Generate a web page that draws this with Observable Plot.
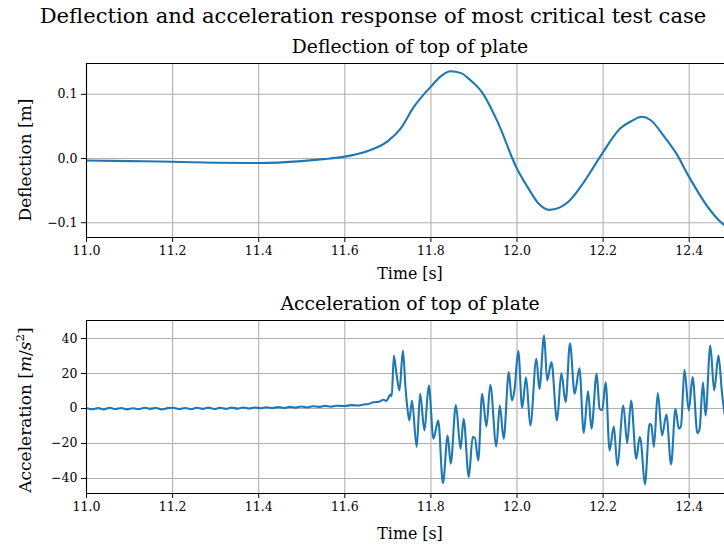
<!DOCTYPE html>
<html>
<head>
<meta charset="utf-8">
<script src="https://cdn.jsdelivr.net/npm/d3@7"></script>
<script src="https://cdn.jsdelivr.net/npm/@observablehq/plot@0.6"></script>
<style>
  html, body { margin: 0; padding: 0; background: #fff; overflow: hidden; }
  #page { position: relative; width: 724px; height: 545px; overflow: hidden; font-family: "DejaVu Serif", "Liberation Serif", serif; color: #000; }
  .lbl { position: absolute; white-space: nowrap; transform: translate(-50%, -50%); line-height: 1; }
  .rot { transform: translate(-50%, -50%) rotate(-90deg); }
  svg { position: absolute; left: 0; }
  svg text { font-family: "DejaVu Serif", "Liberation Serif", serif !important; font-size: 12.5px !important; fill: #000; }
</style>
</head>
<body>
<div id="page"></div>
<script>
// ---- data ----
const defT = [11.0, 11.1, 11.2, 11.3, 11.4, 11.5, 11.55, 11.6, 11.65, 11.7, 11.73, 11.76, 11.8, 11.825, 11.845, 11.87, 11.89, 11.92, 11.955, 12.0, 12.025, 12.05, 12.075, 12.1, 12.12, 12.155, 12.2, 12.24, 12.265, 12.29, 12.31, 12.34, 12.37, 12.4, 12.447, 12.47, 12.482];
const defV = [-0.003, -0.004, -0.005, -0.0065, -0.007, -0.004, -0.001, 0.003, 0.011, 0.027, 0.047, 0.08, 0.112, 0.129, 0.136, 0.133, 0.123, 0.102, 0.057, -0.016, -0.045, -0.07, -0.080, -0.076, -0.067, -0.037, 0.010, 0.047, 0.058, 0.065, 0.060, 0.036, 0.008, -0.029, -0.079, -0.097, -0.104];

const accT = [11.000, 11.013, 11.027, 11.040, 11.054, 11.067, 11.081, 11.094, 11.108, 11.121, 11.135, 11.148, 11.162, 11.175, 11.189, 11.202, 11.216, 11.229, 11.243, 11.256, 11.270, 11.283, 11.297, 11.310, 11.324, 11.337, 11.351, 11.364, 11.378, 11.391, 11.405, 11.418, 11.432, 11.445, 11.459, 11.472, 11.486, 11.499, 11.513, 11.526, 11.540, 11.553, 11.567, 11.580, 11.600, 11.615, 11.630, 11.644, 11.655, 11.667, 11.678, 11.690, 11.696, 11.702, 11.706, 11.709,
  11.714, 11.720, 11.727, 11.735, 11.741, 11.746, 11.750, 11.756, 11.767, 11.775, 11.785, 11.795, 11.806, 11.817, 11.828, 11.839, 11.846, 11.858, 11.869, 11.876, 11.888, 11.897, 11.902, 11.910, 11.919, 11.929, 11.938, 11.952, 11.960, 11.969, 11.981, 11.988, 11.994, 12.003, 12.012, 12.021, 12.031, 12.045, 12.052, 12.063, 12.070, 12.080, 12.093, 12.103, 12.113, 12.123, 12.134, 12.145, 12.155, 12.165, 12.173, 12.185, 12.192, 12.198, 12.206, 12.215, 12.225, 12.233, 12.247, 12.256, 12.265, 12.277, 12.285, 12.288, 12.297, 12.308, 12.312, 12.318, 12.327, 12.337, 12.347, 12.358, 12.368, 12.376, 12.381, 12.389, 12.399, 12.408, 12.419, 12.424, 12.432, 12.438, 12.449, 12.458, 12.468, 12.476, 12.482];
const accV = [0.3, -0.4, 0.2, -0.5, 0.4, -0.3, 0.3, -0.5, 0.1, -0.4, 0.4, -0.2, 0.3, -0.5, 0.2, 0.4, -0.3, 0.3, -0.4, 0.4, -0.2, 0.5, -0.3, 0.4, -0.2, 0.5, -0.1, 0.6, 0.0, 0.6, 0.1, 0.7, 0.2, 0.8, 0.3, 0.9, 0.5, 1.1, 0.6, 1.3, 0.9, 1.5, 1.0, 1.6, 1.4, 1.9, 1.7, 2.3, 2.6, 3.6, 3.8, 5.0, 4.3, 6.5, 8.0, 7.0,
  30.3, 19.8, 10.3, 33.1, 12, -1.1, -6.9, 4.6, -22, 8.4, -12.6, 13.1, -17.3, -6.9, -42.7, -15.4, -31.6, 2.0, -23, -5.9, -39.2, -16.4, -16.7, -29.7, 8.4, -10.3, 13.5, -21.7, 1.7, -17.3, 20.8, 4.6, 10.3, 32.8, 0.4, 17.9, -9.7, 28.4, 11.2, 41.7, 16, 26.5, -6.9, 20.2, 3.6, 37.3, 8.4, 23, -14, 9.9, -11.6, 19.8, -0.2, -1, 15, -24, -10.3, -32.6, 1.7, -19.8, 4.6, -28.8, -16.4, -19, -43.4, -8.8, -9.5, -22, 8.8, -15.4, -3.4, -32, -0.2, -11.6, -10, 22.1, -1.1, 17.9, -14.1, -12, 15, -4, 36, 10.3, 30.3, 9.3, -3];

const xTicks = [11.0, 11.2, 11.4, 11.6, 11.8, 12.0, 12.2, 12.4];
const defTicks = [-0.1, 0.0, 0.1];
const accTicks = [-40, -20, 0, 20, 40];

const titleText = "Deflection and acceleration response of most critical test case";
const sub1 = "Deflection of top of plate";
const sub2 = "Acceleration of top of plate";
const xLabel = "Time [s]";

// ---- layout ----
const page = document.getElementById("page");
const BLUE = "#1f77b4";
const GRID = "#b0b0b0";

function label(html, x, y, size, rot) {
  const d = document.createElement("div");
  d.className = "lbl" + (rot ? " rot" : "");
  d.style.left = x + "px";
  d.style.top = y + "px";
  d.style.fontSize = size + "px";
  d.innerHTML = html;
  page.appendChild(d);
}

function panel({data, yDomain, yTicks, yFmt, top, height, mTop, mBottom}) {
  const xDomain = [11, 12.482];
  const p = Plot.plot({
    width: 724, height, marginLeft: 86, marginRight: 0, marginTop: mTop, marginBottom: mBottom,
    style: {background: "transparent", overflow: "visible"},
    x: {domain: xDomain, label: null},
    y: {domain: yDomain, label: null},
    marks: [
      Plot.gridX(xTicks, {stroke: GRID, strokeOpacity: 1, strokeWidth: 1.1}),
      Plot.gridY(yTicks, {stroke: GRID, strokeOpacity: 1, strokeWidth: 1.1}),
      Plot.line(data, {x: "t", y: "v", stroke: BLUE, strokeWidth: 2.1, curve: "monotone-x", clip: true}),
      Plot.ruleX([xDomain[0]], {stroke: "#000", strokeWidth: 1.1}),
      Plot.ruleY([yDomain[1]], {stroke: "#000", strokeWidth: 1.1}),
      Plot.ruleY([yDomain[0]], {stroke: "#000", strokeWidth: 1.1}),
      Plot.axisX(xTicks, {tickFormat: d3.format(".1f"), tickSize: 5, tickPadding: 4, stroke: "#000", label: null}),
      Plot.axisY(yTicks, {tickFormat: yFmt, tickSize: 5, tickPadding: 4, stroke: "#000", label: null})
    ]
  });
  p.style.top = top + "px";
  page.appendChild(p);
}

const defData = defT.map((t, i) => ({t, v: defV[i]}));
const accData = accT.map((t, i) => ({t, v: accV[i]}));

panel({data: defData, yDomain: [-0.123, 0.148], yTicks: defTicks, yFmt: d3.format(".1f"), top: 0, height: 290, mTop: 63, mBottom: 53});
panel({data: accData, yDomain: [-48.6, 50.3], yTicks: accTicks, yFmt: d3.format("d"), top: 290, height: 255, mTop: 30, mBottom: 52});

label(titleText, 373, 16, 21.1);
label(sub1, 410, 47, 18.8);
label(xLabel, 410, 274, 15.8);
label(sub2, 410, 304, 18.8);
label(xLabel, 410, 534, 15.8);
label("Deflection [m]", 25, 160, 17, true);
label('Acceleration [<i>m</i>/<i>s</i><sup style="font-size:0.7em;vertical-align:0.55em;line-height:0">2</sup>]', 25, 410, 17, true);
</script>
</body>
</html>
